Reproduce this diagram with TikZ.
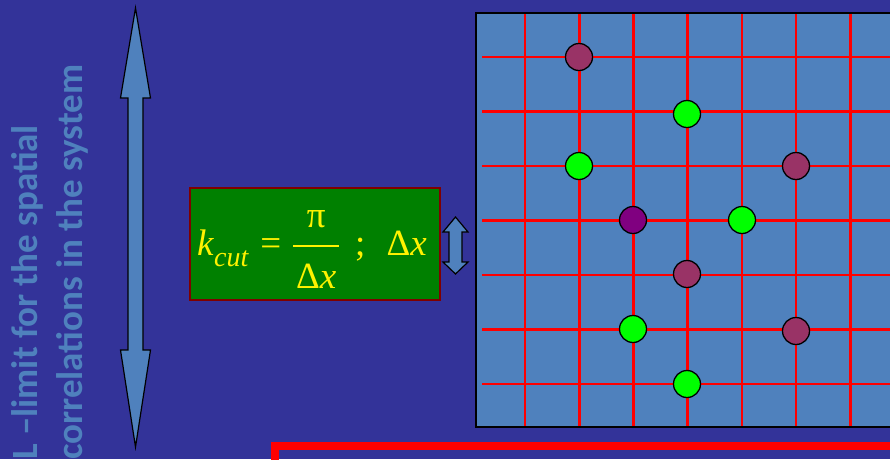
\documentclass[tikz,border=0pt]{standalone}
\usepackage{fontspec}
\setmainfont{Liberation Serif}
\newfontfamily\labfont{Carlito}
\definecolor{bgblue}{HTML}{333399}
\definecolor{gridblue}{HTML}{4F81BD}
\definecolor{textblue}{HTML}{4F81BD}
\definecolor{boxgreen}{HTML}{008000}
\definecolor{boxborder}{HTML}{800000}
\definecolor{dotmaroon}{HTML}{993366}
\definecolor{dotpurple}{HTML}{800080}
\definecolor{dotgreen}{HTML}{00FF00}
\begin{document}
\begin{tikzpicture}[x=1pt,y=-1pt,
  gridline/.style={red, line width=2.6pt},
  dot/.style={circle, draw=black, line width=1.3pt, minimum size=27pt, inner sep=0pt},
  blockarrow/.style={fill=gridblue, draw=black, line width=1.2pt, line join=miter},
  sidetext/.style={rotate=90, anchor=base west, inner sep=0pt, text=textblue,
    font=\labfont\bfseries\fontsize{37}{45}\selectfont},
  formbox/.style={draw=boxborder, line width=1.3pt, fill=boxgreen, minimum width=250pt,
    minimum height=112pt, inner sep=0pt},
  formtext/.style={anchor=base west, inner sep=0pt, text=yellow,
    font=\fontsize{37}{40}\selectfont}]
\useasboundingbox (0,0) rectangle (890,459);
\clip (0,0) rectangle (890,459);
\fill[bgblue] (0,0) rectangle (890,459);

% side text
\node[sidetext] (line1) at (37,460) {L –limit for the spatial};
\node[sidetext] (line2) at (82,460) {correlations in the system};

% big double arrow
\draw[blockarrow] (135.5,8) -- (150.5,98) -- (143,98) -- (143,350) -- (150.5,350) -- (135.5,447)
  -- (120.5,350) -- (128,350) -- (128,98) -- (120.5,98) -- cycle;

% formula box
\node[formbox] (formula) at (315,244) {};
\node[formtext] (formtxt) at (197,255) {\textit{k}\raisebox{-11pt}{\fontsize{28}{30}\selectfont\itshape cut}\hspace{12pt}=\hspace{12pt}%
  \rlap{\raisebox{28pt}{\makebox[46pt]{π}}}%
  \rlap{\rule[8pt]{46pt}{2pt}}%
  \raisebox{-33pt}{\makebox[46pt]{Δ\textit{x}}}%
  \hspace{16pt};\hspace{21pt}Δ\textit{x}};

% small double arrow
\draw[blockarrow] (455.5,217) -- (468,232) -- (462,232) -- (462,262) -- (468,262) -- (455.5,274)
  -- (443,262) -- (449,262) -- (449,232) -- (443,232) -- cycle;

% grid
\fill[gridblue] (476,13) rectangle (900,427);
\foreach \i in {0,...,6} \draw[gridline] ({525+54.2*\i},13) -- ({525+54.2*\i},427);
\foreach \j in {0,...,6} \draw[gridline] (482,{57+54.5*\j}) -- (900,{57+54.5*\j});
\draw[black, line width=1.3pt] (476,13) rectangle (900,427);

% particles
\node[dot, fill=dotmaroon] (p1) at (579,57) {};
\node[dot, fill=dotgreen]  (p2) at (687,114) {};
\node[dot, fill=dotgreen]  (p3) at (579,166) {};
\node[dot, fill=dotmaroon] (p4) at (796,166) {};
\node[dot, fill=dotpurple] (p5) at (633,220) {};
\node[dot, fill=dotgreen]  (p6) at (742,220) {};
\node[dot, fill=dotmaroon] (p7) at (687,274) {};
\node[dot, fill=dotgreen]  (p8) at (633,329) {};
\node[dot, fill=dotmaroon] (p9) at (796,331) {};
\node[dot, fill=dotgreen]  (p10) at (687,384) {};

% red frame at bottom
\draw[red, line width=8pt, line join=miter] (275,480) -- (275,446) -- (900,446);
\end{tikzpicture}
\end{document}
